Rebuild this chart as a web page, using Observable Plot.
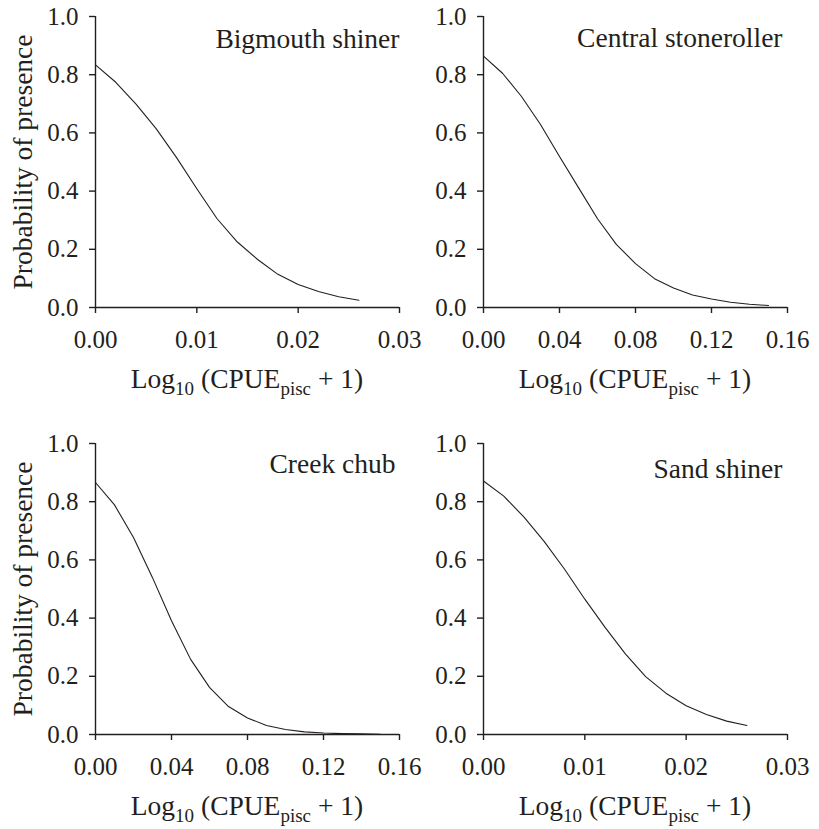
<!DOCTYPE html>
<html>
<head>
<meta charset="utf-8">
<script src="https://cdn.jsdelivr.net/npm/d3@7"></script>
<script src="https://cdn.jsdelivr.net/npm/@observablehq/plot@0.6"></script>
<style>
  body { margin: 0; background: #fff; }
  #chart { position: relative; width: 819px; height: 829px; background: #fff; }
  .panel { position: absolute; }
  .panel svg { overflow: visible; }
  .panel svg text { font-family: "Liberation Serif", "Times New Roman", serif; }
</style>
</head>
<body>
<div id="chart"></div>
<script>
// ---- Data ----
const species = ["Bigmouth shiner", "Central stoneroller", "Creek chub", "Sand shiner"];

const xBigmouth = [0, 0.002, 0.004, 0.006, 0.008, 0.010, 0.012, 0.014, 0.016, 0.018, 0.020, 0.022, 0.024, 0.026];
const pBigmouth = [0.834, 0.774, 0.699, 0.614, 0.515, 0.408, 0.305, 0.225, 0.165, 0.114, 0.079, 0.055, 0.037, 0.025];

const xStoneroller = [0, 0.01, 0.02, 0.03, 0.04, 0.05, 0.06, 0.07, 0.08, 0.09, 0.10, 0.11, 0.12, 0.13, 0.14, 0.15];
const pStoneroller = [0.864, 0.805, 0.725, 0.629, 0.519, 0.412, 0.305, 0.216, 0.151, 0.099, 0.067, 0.043, 0.029, 0.018, 0.011, 0.007];

const xCreekChub = [0, 0.01, 0.02, 0.03, 0.04, 0.05, 0.06, 0.07, 0.08, 0.09, 0.10, 0.11, 0.12, 0.13, 0.14, 0.15];
const pCreekChub = [0.866, 0.789, 0.677, 0.539, 0.391, 0.259, 0.162, 0.096, 0.057, 0.031, 0.017, 0.009, 0.005, 0.003, 0.002, 0.001];

const xSandShiner = [0, 0.002, 0.004, 0.006, 0.008, 0.010, 0.012, 0.014, 0.016, 0.018, 0.020, 0.022, 0.024, 0.026];
const pSandShiner = [0.871, 0.819, 0.747, 0.663, 0.568, 0.465, 0.368, 0.277, 0.199, 0.142, 0.099, 0.069, 0.046, 0.031];

const yTicks = [0, 0.2, 0.4, 0.6, 0.8, 1.0];
const xTicksSmall = [0, 0.01, 0.02, 0.03];
const xTicksLarge = [0, 0.04, 0.08, 0.12, 0.16];

const yTitle = "Probability of presence";

// ---- Styling ----
const ink = "#231f20";
const font = "Liberation Serif";

function panel(cfg) {
  const data = cfg.xs.map((x, i) => ({x, p: cfg.ps[i]}));
  const marks = [
    Plot.line(data, {x: "x", y: "p", stroke: ink, strokeWidth: 1.1}),
    Plot.ruleX([0], {stroke: ink, strokeWidth: 1.4}),
    Plot.ruleY([0], {stroke: ink, strokeWidth: 1.4}),
    Plot.axisX({ticks: cfg.xTicks, tickFormat: d3.format(".2f"), tickSize: 6, tickPadding: 17,
      label: null, fontSize: 25, fontFamily: font, fontVariant: "normal", color: ink, strokeWidth: 1.4}),
    Plot.axisY({ticks: yTicks, tickFormat: d3.format(".1f"), tickSize: 6, tickPadding: 11,
      label: null, fontSize: 25, fontFamily: font, fontVariant: "normal", color: ink, strokeWidth: 1.4}),
    Plot.text([cfg.name], {text: d => d, frameAnchor: "top-right", textAnchor: "end",
      lineAnchor: "bottom", dx: cfg.nameDx, dy: cfg.nameDy, fontSize: 27.5, fontFamily: font, fill: ink})
  ];
  if (cfg.showYTitle) {
    marks.push(Plot.text([yTitle], {text: d => d, frameAnchor: "left", rotate: -90, textAnchor: "middle",
      lineAnchor: "bottom", dx: -64, fontSize: 27.5, fontFamily: font, fill: ink}));
  }
  const svg = Plot.plot({
    width: cfg.width,
    height: 400,
    marginLeft: cfg.marginLeft,
    marginRight: cfg.marginRight,
    marginTop: 16,
    marginBottom: 93,
    style: {fontFamily: font, fontSize: "25px", color: ink, background: "transparent", overflow: "visible"},
    x: {domain: [0, cfg.xMax]},
    y: {domain: [0, 1]},
    marks
  });
  // x-axis title with subscripts
  const cx = (cfg.marginLeft + cfg.width - cfg.marginRight) / 2;
  const t = d3.select(svg).append("text")
    .attr("x", cx).attr("y", 388)
    .attr("text-anchor", "middle")
    .attr("font-family", font)
    .attr("font-size", 27.5)
    .attr("fill", ink)
    .style("white-space", "pre");
  t.append("tspan").text("Log");
  t.append("tspan").attr("dy", 7).attr("font-size", 19).text("10");
  t.append("tspan").attr("dy", -7).text(" (CPUE");
  t.append("tspan").attr("dy", 7).attr("font-size", 19).text("pisc");
  t.append("tspan").attr("dy", -7).text(" + 1)");

  const div = document.createElement("div");
  div.className = "panel";
  div.style.left = cfg.left + "px";
  div.style.top = cfg.top + "px";
  div.appendChild(svg);
  document.getElementById("chart").appendChild(div);
}

panel({name: species[0], xs: xBigmouth, ps: pBigmouth, xMax: 0.03, xTicks: xTicksSmall,
  left: 0, top: 0, width: 410, marginLeft: 95, marginRight: 11, nameDx: 0, nameDy: 31, showYTitle: true});
panel({name: species[1], xs: xStoneroller, ps: pStoneroller, xMax: 0.16, xTicks: xTicksLarge,
  left: 410, top: 0, width: 409, marginLeft: 73, marginRight: 32, nameDx: -5, nameDy: 30, showYTitle: false});
panel({name: species[2], xs: xCreekChub, ps: pCreekChub, xMax: 0.16, xTicks: xTicksLarge,
  left: 0, top: 427, width: 410, marginLeft: 95, marginRight: 11, nameDx: -4, nameDy: 29, showYTitle: true});
panel({name: species[3], xs: xSandShiner, ps: pSandShiner, xMax: 0.03, xTicks: xTicksSmall,
  left: 410, top: 427, width: 409, marginLeft: 73, marginRight: 32, nameDx: -5, nameDy: 34, showYTitle: false});
</script>
</body>
</html>
